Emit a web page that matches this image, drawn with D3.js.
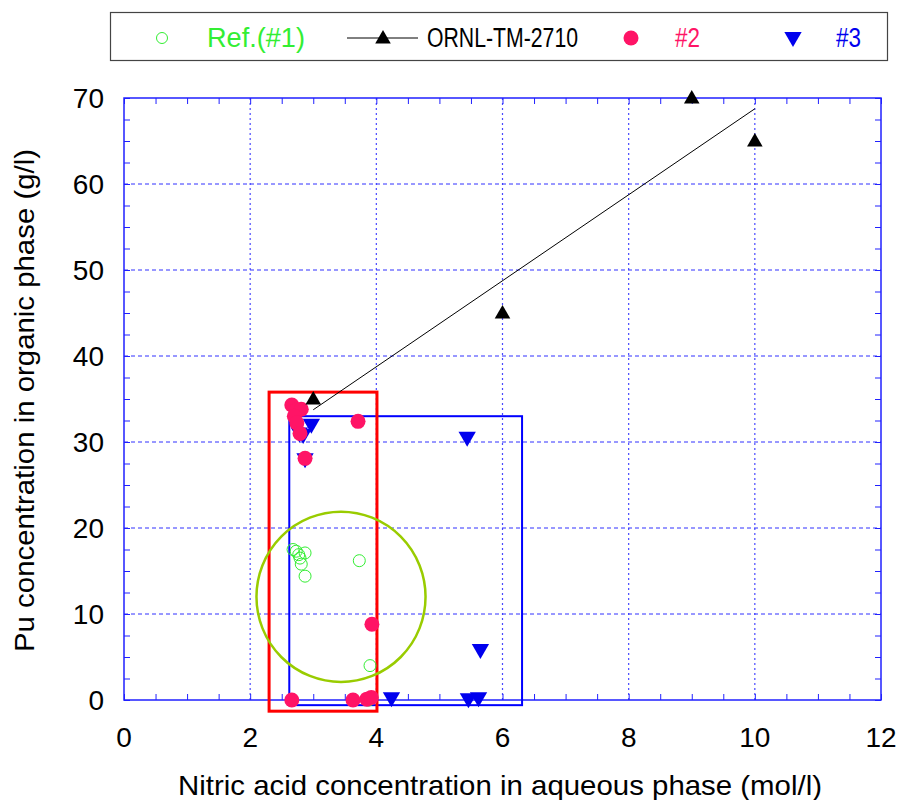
<!DOCTYPE html>
<meta charset="utf-8">
<head>
<title>Pu extraction</title>
<script src="https://cdn.jsdelivr.net/npm/d3@7"></script>
<style>
body { margin:0; background:#fff; }
text { font-family: "Liberation Sans", Arial, sans-serif; }
</style>
</head>
<body>
<svg id=mySVG width=898 height=800></svg>
<script>
// ---- data ----
var refX = [2.68, 2.73, 2.77, 2.87, 2.79, 2.81, 2.87, 3.73, 3.90, 3.62, 3.88]
var refY = [17.5, 17.3, 16.9, 17.1, 16.5, 15.8, 14.4, 16.2, 4.0, 0.0, 0.0]

var ornlX = [3, 6, 9, 10]
var ornlY = [35, 45, 70, 65]
// fitted line end points
var fitX = [3, 10]
var fitY = [33.75, 68.75]

var s2X = [2.66, 2.73, 2.81, 2.70, 2.74, 2.79, 2.87, 3.71, 3.93, 2.66, 3.63, 3.85, 3.92]
var s2Y = [34.3, 33.7, 33.8, 33.0, 32.2, 31.0, 28.1, 32.4, 8.8, 0.0, 0.0, 0.1, 0.3]

var s3X = [2.97, 2.78, 2.84, 2.87, 5.44, 5.65, 4.24, 5.46, 5.62]
var s3Y = [32.0, 31.0, 30.8, 28.0, 30.5, 5.8, 0.2, 0.1, 0.2]

// highlight shapes [x0, x1, y0, y1] and ellipse [cx, cy, rx, ry]
var redBox = [2.30, 4.01, -1.3, 35.8]
var blueBox = [2.62, 6.31, -0.6, 33.0]
var ellipse = [3.44, 12.0, 1.34, 9.9]

var xTicks = [0, 2, 4, 6, 8, 10, 12]
var yTicks = [0, 10, 20, 30, 40, 50, 60, 70]

var legendNames = ["Ref.(#1)", "ORNL-TM-2710", "#2", "#3"]

var pink = "#ff1466", blue = "#0000ee", green = "#33ee33", frameBlue = "#2020ff"

var mLeft = 124, mRight = 881, mTop = 98, mBottom = 700
var x = d3.scaleLinear().domain([0, 12]).range([mLeft, mRight])
var y = d3.scaleLinear().domain([0, 70]).range([mBottom, mTop])

var svg = d3.select("#mySVG")

//---grid---
svg.append("g").selectAll("line").data(xTicks.slice(1, -1)).join("line")
  .attr("x1", d => x(d)).attr("x2", d => x(d)).attr("y1", mTop).attr("y2", mBottom)
  .attr("stroke", "#4848ff").attr("stroke-width", 1.2).attr("stroke-dasharray", "2,3")
svg.append("g").selectAll("line").data(yTicks.slice(1, -1)).join("line")
  .attr("y1", d => y(d)).attr("y2", d => y(d)).attr("x1", mLeft).attr("x2", mRight)
  .attr("stroke", "#3030ff").attr("stroke-width", 1).attr("stroke-dasharray", "4,3")

//---axes with inward ticks, mirrored---
var xMinor = d3.range(0, 12.01, 0.5), yMinor = d3.range(0, 70.01, 2.5)
svg.append("g").attr("transform", "translate(0," + mBottom + ")")
  .call(d3.axisTop(x).tickValues(xMinor).tickSize(6).tickFormat(""))
svg.append("g").attr("transform", "translate(0," + mTop + ")")
  .call(d3.axisBottom(x).tickValues(xMinor).tickSize(6).tickFormat(""))
svg.append("g").attr("transform", "translate(" + mLeft + ",0)")
  .call(d3.axisRight(y).tickValues(yMinor).tickSize(6).tickFormat(""))
svg.append("g").attr("transform", "translate(" + mRight + ",0)")
  .call(d3.axisLeft(y).tickValues(yMinor).tickSize(6).tickFormat(""))
svg.selectAll(".domain").remove()
svg.selectAll(".tick line").attr("stroke", frameBlue)

svg.append("rect").attr("x", mLeft).attr("y", mTop).attr("width", mRight - mLeft).attr("height", mBottom - mTop)
  .attr("fill", "none").attr("stroke", frameBlue).attr("stroke-width", 1.5)

// tick labels
svg.append("g").selectAll("text").data(xTicks).join("text")
  .attr("x", d => x(d)).attr("y", mBottom + 47).attr("text-anchor", "middle")
  .attr("font-size", 28).text(d => d)
svg.append("g").selectAll("text").data(yTicks).join("text")
  .attr("x", mLeft - 20).attr("y", d => y(d) + 10).attr("text-anchor", "end")
  .attr("font-size", 28).text(d => d)

svg.append("text").attr("x", 178).attr("y", 795)
  .attr("textLength", 644).attr("lengthAdjust", "spacingAndGlyphs")
  .attr("font-size", 28).text("Nitric acid concentration in aqueous phase (mol/l)")
svg.append("text").attr("transform", "translate(34,652) rotate(-90)")
  .attr("textLength", 503).attr("lengthAdjust", "spacingAndGlyphs")
  .attr("font-size", 28).text("Pu concentration in organic phase (g/l)")

//---highlight boxes and ellipse---
function box(b, col, w) {
  svg.append("rect").attr("x", x(b[0])).attr("y", y(b[3]))
    .attr("width", x(b[1]) - x(b[0])).attr("height", y(b[2]) - y(b[3]))
    .attr("fill", "none").attr("stroke", col).attr("stroke-width", w)
}
box(blueBox, "#0000ff", 2)
box(redBox, "#ff0000", 3)
svg.append("ellipse").attr("cx", x(ellipse[0])).attr("cy", y(ellipse[1]))
  .attr("rx", x(ellipse[2]) - x(0)).attr("ry", y(0) - y(ellipse[3]))
  .attr("fill", "none").attr("stroke", "#99cc00").attr("stroke-width", 2.5)

//---fit line---
svg.append("line").attr("x1", x(fitX[0])).attr("y1", y(fitY[0]))
  .attr("x2", x(fitX[1])).attr("y2", y(fitY[1])).attr("stroke", "black").attr("stroke-width", 1)

var triUp = d3.symbol().type(d3.symbolTriangle).size(105)
var triDown = d3.symbol().type(d3.symbolTriangle).size(130)

// ref #1
svg.append("g").selectAll("circle").data(refX).join("circle")
  .attr("cx", d => x(d)).attr("cy", (d, i) => y(refY[i])).attr("r", 6)
  .attr("fill", "none").attr("stroke", green).attr("stroke-width", 1)
// #3
svg.append("g").selectAll("path").data(s3X).join("path")
  .attr("d", triDown).attr("fill", blue)
  .attr("transform", (d, i) => "translate(" + x(d) + "," + (y(s3Y[i]) - 1) + ") rotate(180)")
// #2
svg.append("g").selectAll("circle").data(s2X).join("circle")
  .attr("cx", d => x(d)).attr("cy", (d, i) => y(s2Y[i])).attr("r", 7.5)
  .attr("fill", pink)
// ORNL
svg.append("g").selectAll("path").data(ornlX).join("path")
  .attr("d", triUp).attr("fill", "black")
  .attr("transform", (d, i) => "translate(" + x(d) + "," + (y(ornlY[i]) + 1) + ")")

//---legend---
var lg = svg.append("g")
lg.append("rect").attr("x", 110.5).attr("y", 12.5).attr("width", 777).attr("height", 48)
  .attr("fill", "white").attr("stroke", "#444").attr("stroke-width", 1.2)
var ly = 38
lg.append("circle").attr("cx", 162).attr("cy", ly).attr("r", 5.5).attr("fill", "none").attr("stroke", green)
lg.append("line").attr("x1", 347).attr("x2", 418).attr("y1", ly).attr("y2", ly).attr("stroke", "black")
lg.append("path").attr("d", triUp).attr("fill", "black").attr("transform", "translate(383," + (ly + 1) + ")")
lg.append("circle").attr("cx", 631).attr("cy", ly).attr("r", 7.5).attr("fill", pink)
lg.append("path").attr("d", triDown).attr("fill", blue).attr("transform", "translate(793," + (ly - 1) + ") rotate(180)")
var legX = [207, 427, 675, 836], legW = [98, 151, 25, 25], legC = [green, "black", pink, blue]
lg.selectAll("text.l").data(legendNames).join("text")
  .attr("x", (d, i) => legX[i]).attr("y", 47).attr("font-size", 27)
  .attr("font-family", "'Liberation Sans Narrow', 'Liberation Sans', sans-serif")
  .attr("textLength", (d, i) => legW[i]).attr("lengthAdjust", "spacingAndGlyphs")
  .attr("fill", (d, i) => legC[i]).text(d => d)
</script>
</body>
